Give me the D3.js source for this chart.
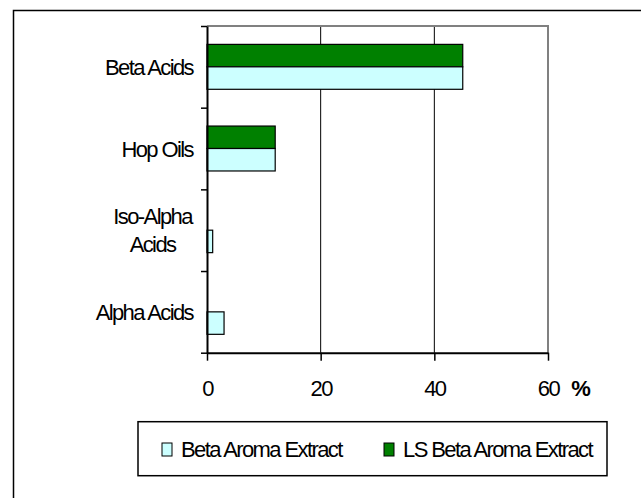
<!DOCTYPE html>
<html>
<head>
<meta charset="utf-8">
<script src="https://cdn.jsdelivr.net/npm/d3@7"></script>
<style>
  body { margin: 0; background: #fff; }
  svg text { font-family: "Liberation Sans", Arial, sans-serif; font-size: 22px; letter-spacing: -1.6px; fill: #000; }
</style>
</head>
<body>
<div id="chart"></div>
<script>
// Chart data
const categories = ["Beta Acids", "Hop Oils", "Iso-Alpha Acids", "Alpha Acids"];
const categoryLabels = [["Beta Acids"], ["Hop Oils"], ["Iso-Alpha", "Acids"], ["Alpha Acids"]];
const seriesNames = ["LS Beta Aroma Extract", "Beta Aroma Extract"];
const lsBetaValues = [45, 12, 0, 0];
const betaValues = [45, 12, 1, 3];
const xTicks = [0, 20, 40, 60];

const width = 641, height = 498;
const plot = { left: 207, right: 548, top: 26, bottom: 352.7 };
const colors = { "Beta Aroma Extract": "#ccffff", "LS Beta Aroma Extract": "#008000" };

const svg = d3.select("#chart")
  .append("svg")
  .attr("width", width)
  .attr("height", height);

// Outer frame (runs off the right and bottom edges)
svg.append("rect")
  .attr("x", 13.5).attr("y", 10.5)
  .attr("width", 700).attr("height", 600)
  .attr("fill", "none")
  .attr("stroke", "#000")
  .attr("stroke-width", 1.5);

// Scales
const x = d3.scaleLinear().domain([0, 60]).range([plot.left, plot.right]);
const y = d3.scaleBand()
  .domain(categories)
  .range([plot.top, plot.bottom])
  .paddingInner(0.45)
  .paddingOuter(0.225);
const ySub = d3.scaleBand().domain(seriesNames).range([0, y.bandwidth()]);

// Gridlines
svg.append("g")
  .selectAll("line")
  .data([20, 40])
  .join("line")
  .attr("x1", d => x(d)).attr("x2", d => x(d))
  .attr("y1", plot.top).attr("y2", plot.bottom)
  .attr("stroke", "#000")
  .attr("stroke-width", 1);

// Plot area border (top and right, gray)
svg.append("path")
  .attr("d", `M${plot.left},${plot.top}H${x(60)}V${plot.bottom}`)
  .attr("fill", "none")
  .attr("stroke", "#808080")
  .attr("stroke-width", 2);

// Bars
const rows = categories.map((c, i) => ({
  category: c,
  values: [
    { key: seriesNames[0], value: lsBetaValues[i] },
    { key: seriesNames[1], value: betaValues[i] }
  ]
}));

const groups = svg.append("g")
  .selectAll("g")
  .data(rows)
  .join("g")
  .attr("transform", d => `translate(0,${y(d.category)})`);

groups.selectAll("rect")
  .data(d => d.values.filter(v => v.value > 0))
  .join("rect")
  .attr("x", x(0))
  .attr("y", d => ySub(d.key))
  .attr("width", d => x(d.value) - x(0))
  .attr("height", ySub.bandwidth())
  .attr("fill", d => colors[d.key])
  .attr("stroke", "#000")
  .attr("stroke-width", 1.2);

// X axis
const xAxis = svg.append("g")
  .attr("transform", `translate(0,${plot.bottom})`)
  .call(d3.axisBottom(x).tickValues(xTicks).tickSize(8).tickSizeOuter(0));
xAxis.select(".domain").attr("stroke", "#000").attr("stroke-width", 2);
xAxis.selectAll(".tick line").attr("stroke", "#000").attr("stroke-width", 1.5);
xAxis.selectAll(".tick text")
  .attr("y", 43).attr("dy", 0)
  .attr("font-size", null)
  .attr("font-family", null)
  .style("font-size", "22px");

svg.append("text")
  .attr("x", 581).attr("y", 395.7)
  .attr("text-anchor", "middle")
  .style("font-weight", "bold")
  .style("letter-spacing", "0")
  .text("%");

// Y axis: ticks at category boundaries
const yEdges = d3.scaleLinear().domain([0, categories.length]).range([plot.top, plot.bottom]);
const yAxis = svg.append("g")
  .attr("transform", `translate(${plot.left},0)`)
  .call(d3.axisLeft(yEdges).tickValues(d3.range(categories.length + 1)).tickSize(6).tickSizeOuter(0).tickFormat(""));
yAxis.select(".domain").attr("stroke", "#000").attr("stroke-width", 2);
yAxis.selectAll(".tick line").attr("stroke", "#000").attr("stroke-width", 1.5);

// Category labels
const lineHeight = 28;
const labels = svg.append("g")
  .selectAll("g")
  .data(categories)
  .join("g")
  .attr("transform", (d, i) => {
    const cy = y(d) + y.bandwidth() / 2;
    const n = categoryLabels[i].length;
    return `translate(193,${cy + 8 - (n - 1) * lineHeight / 2})`;
  });

labels.each(function (d, i) {
  const lines = categoryLabels[i];
  const g = d3.select(this);
  if (lines.length === 1) {
    g.append("text").attr("text-anchor", "end").text(lines[0]);
  } else {
    // Multi-line label: lines centered on each other, block right-aligned
    const t = g.append("text").attr("text-anchor", "middle");
    lines.forEach((l, j) => t.append("tspan").attr("x", 0).attr("y", j * lineHeight).text(l));
    const w = t.node().getBBox().width;
    t.attr("transform", `translate(${-w / 2},0)`);
  }
});

// Legend
const legend = svg.append("g");
legend.append("rect")
  .attr("x", 138).attr("y", 421.7)
  .attr("width", 469).attr("height", 54)
  .attr("fill", "#fff")
  .attr("stroke", "#000")
  .attr("stroke-width", 1.5);

const legendItems = ["Beta Aroma Extract", "LS Beta Aroma Extract"];
const legendX = [162, 384];
legendItems.forEach((name, i) => {
  const item = legend.append("g").attr("transform", `translate(${legendX[i]},443)`);
  item.append("rect")
    .attr("width", 10).attr("height", 13)
    .attr("fill", colors[name])
    .attr("stroke", "#000")
    .attr("stroke-width", 1);
  item.append("text")
    .attr("x", 19).attr("y", 13.7)
    .text(name);
});
</script>
</body>
</html>
